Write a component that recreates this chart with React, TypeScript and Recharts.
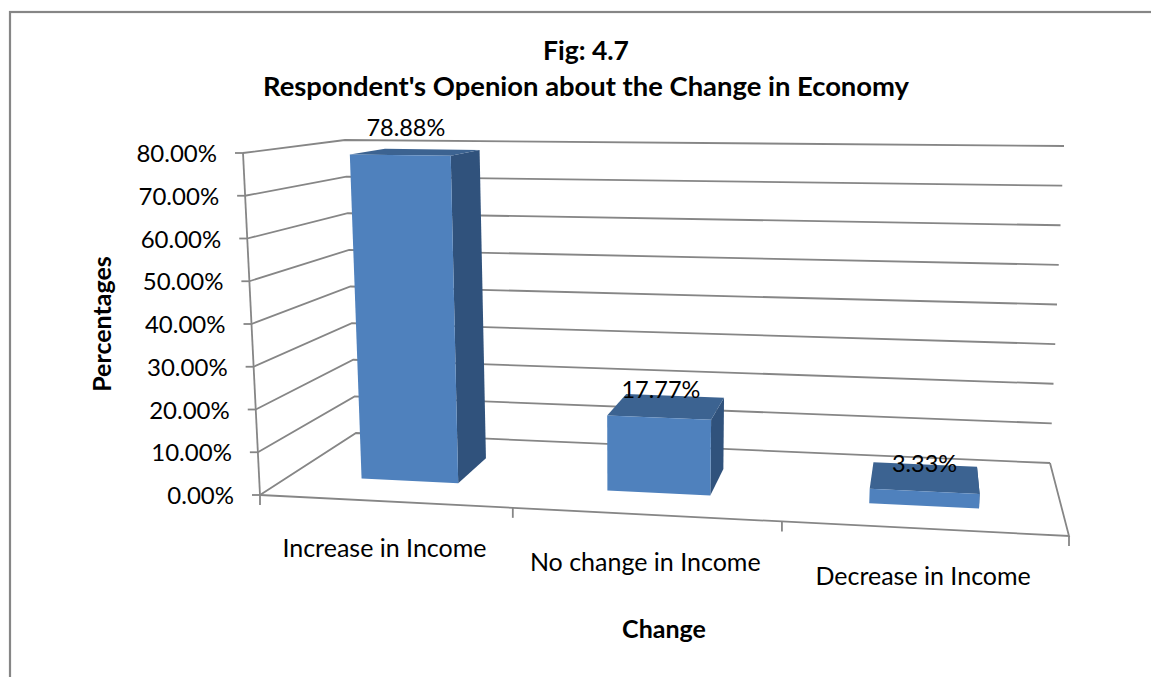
import React from "react";
import {
  BarChart,
  Bar,
  XAxis,
  YAxis,
  CartesianGrid,
  LabelList,
  Customized,
} from "recharts";

// Survey results, in percent
const categories = ["Increase in Income", "No change in Income", "Decrease in Income"];
const percentages = [78.88, 17.77, 3.33];
const yTicks = [0, 10, 20, 30, 40, 50, 60, 70, 80];
const chartTitle = ["Fig: 4.7", "Respondent's Openion about the Change in Economy"];
const yAxisTitle = "Percentages";
const xAxisTitle = "Change";

const rows = categories.map((name, i) => ({ name, value: percentages[i] }));

const WIDTH = 1151;
const HEIGHT = 677;
const FONT = "Lato, 'Open Sans', sans-serif";
const LINE = "#868686";
const LINE_W = 1.8;
const TEXT = "#000";

// Flat plot rectangle the library lays its scales out in
const PLOT = { left: 100, top: 100, right: 100, bottom: 100 };
const plotW = WIDTH - PLOT.left - PLOT.right;
const plotH = HEIGHT - PLOT.top - PLOT.bottom;

// Corners of the box the flat plot is projected onto
const BOX = {
  frontBottomLeft: [260, 495],
  frontBottomRight: [1069, 536],
  backBottomLeft: [356, 433],
  backBottomRight: [1050, 463],
  frontTopLeft: [243, 153],
  frontTopRight: [1091, 166],
  backTopLeft: [345, 140],
  backTopRight: [1064, 146],
};
const PERSPECTIVE = 1.1;
const BAR_FRONT = 0.32;
const BAR_BACK = 0.71;

type Pt = [number, number];
const mix = (a: number[], b: number[], t: number): Pt => [
  a[0] + (b[0] - a[0]) * t,
  a[1] + (b[1] - a[1]) * t,
];

// u: along the categories, v: up the value axis, d: into the box (all 0..1)
function project(u: number, v: number, d: number): Pt {
  const f = u / (u + PERSPECTIVE * (1 - u));
  const bottomFront = mix(BOX.frontBottomLeft, BOX.frontBottomRight, f);
  const bottomBack = mix(BOX.backBottomLeft, BOX.backBottomRight, f);
  const topFront = mix(BOX.frontTopLeft, BOX.frontTopRight, f);
  const topBack = mix(BOX.backTopLeft, BOX.backTopRight, f);
  return mix(mix(bottomFront, bottomBack, d), mix(topFront, topBack, d), v);
}

const toU = (x: number) => (x - PLOT.left) / plotW;
const toV = (y: number) => (PLOT.top + plotH - y) / plotH;
const poly = (pts: Pt[]) => pts.map((p) => p.join(",")).join(" ");

function Bar3D(props: any) {
  const { x, y, width, height } = props;
  const u0 = toU(x);
  const u1 = toU(x + width);
  const v1 = toV(y);
  const v0 = toV(y + height);
  const a = project(u0, v0, BAR_FRONT);
  const b = project(u1, v0, BAR_FRONT);
  const c = project(u1, v1, BAR_FRONT);
  const e = project(u0, v1, BAR_FRONT);
  const bb = project(u1, v0, BAR_BACK);
  const cb = project(u1, v1, BAR_BACK);
  const eb = project(u0, v1, BAR_BACK);
  return (
    <g>
      <polygon points={poly([b, bb, cb, c])} fill="#30527C" />
      <polygon points={poly([e, c, cb, eb])} fill="#3C6391" />
      <polygon points={poly([a, b, c, e])} fill="#4F81BD" />
    </g>
  );
}

function GridLine(props: any) {
  const v = toV(props.y1);
  const a = project(0, v, 0);
  const b = project(0, v, 1);
  const c = project(1, v, 1);
  return <polyline points={poly([a, b, c])} fill="none" stroke={LINE} strokeWidth={LINE_W} />;
}

function YTick(props: any) {
  const v = toV(props.y);
  const [px, py] = project(0, v, 0);
  return (
    <g>
      <line x1={px - 8} y1={py} x2={px} y2={py} stroke={LINE} strokeWidth={LINE_W} />
      <text x={px - 26} y={py + 9} textAnchor="end" fontFamily={FONT} fontSize={24} fill={TEXT}>
        {props.payload.value.toFixed(2)}%
      </text>
    </g>
  );
}

function XTick(props: any) {
  const u = toU(props.x);
  const [px, py] = project(u, 0, 0);
  return (
    <text x={px} y={py + 56} textAnchor="middle" fontFamily={FONT} fontSize={25} fill={TEXT}>
      {props.payload.value}
    </text>
  );
}

function ValueLabel(props: any) {
  const { x, y, width, value } = props;
  const u = toU(x + width / 2);
  const [px, py] = project(u, toV(y), BAR_FRONT);
  const drift = 8.5 * (1 - u) * (1 - u);
  return (
    <text x={px + drift} y={py - 19.5} textAnchor="middle" fontFamily={FONT} fontSize={23.5} fill={TEXT}>
      {value.toFixed(2)}%
    </text>
  );
}

// Axis lines, floor outline, category tick marks, titles and the outer frame
function Frame() {
  const corners: Pt[] = [project(0, 0, 0), project(1, 0, 0), project(1, 0, 1)];
  const ticks = [0, 1, 2, 3].map((i) => project(i / 3, 0, 0));
  return (
    <g>
      <rect x={10} y={12} width={WIDTH + 40} height={HEIGHT + 40} fill="none" stroke={LINE} strokeWidth={2.2} />
      <polyline points={poly(corners)} fill="none" stroke={LINE} strokeWidth={LINE_W} />
      <polyline points={poly([project(0, 0, 0), project(0, 1, 0)])} fill="none" stroke={LINE} strokeWidth={LINE_W} />
      {ticks.map(([x, y], i) => (
        <line key={i} x1={x} y1={y} x2={x} y2={y + 10} stroke={LINE} strokeWidth={LINE_W} />
      ))}
      {chartTitle.map((line, i) => (
        <text key={line} x={586} y={60 + i * 36} textAnchor="middle" fontFamily={FONT} fontWeight={700} fontSize={i === 0 ? 26.5 : 27.4} fill={TEXT}>
          {line}
        </text>
      ))}
      <text
        transform="translate(111,324) rotate(-90)"
        textAnchor="middle"
        fontFamily={FONT}
        fontWeight={700}
        fontSize={25}
        fill={TEXT}
      >
        {yAxisTitle}
      </text>
      <text x={664} y={638} textAnchor="middle" fontFamily={FONT} fontWeight={700} fontSize={25} fill={TEXT}>
        {xAxisTitle}
      </text>
    </g>
  );
}

export default function App() {
  return (
    <div style={{ position: "absolute", left: 0, top: 0, width: WIDTH, height: HEIGHT, overflow: "hidden", background: "#fff" }}>
      <BarChart
        width={WIDTH}
        height={HEIGHT}
        data={rows}
        margin={{ top: PLOT.top, right: PLOT.right, bottom: PLOT.bottom - 1, left: PLOT.left - 1 }}
        barCategoryGap="30%"
      >
        <CartesianGrid vertical={false} horizontal={(p: any) => <GridLine key={p.key ?? p.y1} {...p} />} />
        <XAxis dataKey="name" height={1} axisLine={false} tickLine={false} interval={0} tick={(p: any) => <XTick {...p} />} />
        <YAxis
          width={1}
          domain={[0, 80]}
          ticks={yTicks}
          axisLine={false}
          tickLine={false}
          interval={0}
          tick={(p: any) => <YTick {...p} />}
        />
        <Customized component={<Frame />} />
        <Bar dataKey="value" isAnimationActive={false} shape={(p: any) => <Bar3D {...p} />}>
          <LabelList dataKey="value" content={(p: any) => <ValueLabel {...p} />} />
        </Bar>
      </BarChart>
    </div>
  );
}
